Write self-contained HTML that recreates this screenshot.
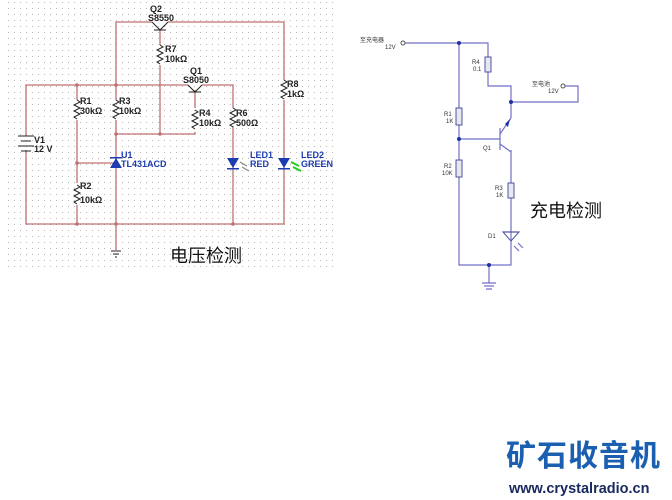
<!DOCTYPE html>
<html><head><meta charset="utf-8"><style>
body{margin:0;width:672px;height:500px;background:#fff;overflow:hidden;position:relative;font-family:"Liberation Sans","Noto Sans CJK SC",sans-serif}
</style></head><body>
<svg width="672" height="500" style="position:absolute;left:0;top:0" font-family="Liberation Sans, Noto Sans CJK SC, sans-serif">
<defs><pattern id="g" width="6" height="6" patternUnits="userSpaceOnUse"><rect x="2" y="2" width="1" height="1" fill="#b8b8b8"/></pattern></defs>
<rect x="8" y="2" width="330" height="266" fill="url(#g)"/>
<g stroke="#c07070" stroke-width="1.3" fill="none">
<path d="M116 85 V22 H152 M168 22 H284 V80 M284 100 V224 H26 V150 M26 136 V85 H188 M202 85 H233 V108 M233 126 V224"/>
<path d="M160 30 V45 M160 65 V134 H116 V120 M116 100 V85 M160 134 H195 V132 M195 108 V90"/>
<path d="M77 85 V100 M77 120 V183 M77 205 V224 M77 163 H116 M116 134 V224 V250"/>
</g>
<g stroke="#222" stroke-width="1" fill="none">
<path d="M152 22 L160 30 L168 22 M154 30 H166"/>
<path d="M188 85 L195 92 L202 85 M189 92 H201"/>
<path d="M77 100 l3 2 l-6 3 l6 3 l-6 3 l6 3 l-6 3 l3 2 M116 100 l3 2 l-6 3 l6 3 l-6 3 l6 3 l-6 3 l3 2 M160 45 l3 2 l-6 3 l6 3 l-6 3 l6 3 l-6 3 l3 2 M195 110 l3 2 l-6 3 l6 3 l-6 3 l6 3 l-6 3 l3 2 M233 108 l3 2 l-6 3 l6 3 l-6 3 l6 3 l-6 3 l3 2 M77 185 l3 2 l-6 3 l6 3 l-6 3 l6 3 l-6 3 l3 2 M284 80 l3 2 l-6 3 l6 3 l-6 3 l6 3 l-6 3 l3 2"/>
<path d="M18 136 H34 M21 141 H31 M18 146 H34 M21 151 H31"/>
<path d="M111 251 H121 M113 254 H119 M115 257 H117"/>
</g>
<g fill="#1c3cb0"><path d="M110 168 L116 158 L122 168Z"/><rect x="110" y="157" width="12" height="1.5"/>
<path d="M227 158 H239 L233 168Z"/><rect x="227" y="168" width="12" height="1.5"/>
<path d="M278 158 H290 L284 168Z"/><rect x="278" y="168" width="12" height="1.5"/></g>
<path d="M240 162 l7 4 M242 167 l7 4" stroke="#888" stroke-width="1.2"/>
<path d="M291 162 l8 4 M293 167 l8 4" stroke="#2c2" stroke-width="2"/>
<g fill="#c07070"><circle cx="116" cy="85" r="1.8"/><circle cx="77" cy="85" r="1.8"/><circle cx="77" cy="163" r="1.8"/><circle cx="116" cy="134" r="1.8"/><circle cx="160" cy="134" r="1.8"/><circle cx="77" cy="224" r="1.8"/><circle cx="116" cy="224" r="1.8"/><circle cx="233" cy="224" r="1.8"/></g>
<g font-size="9" font-weight="bold" fill="#222">
<text x="150" y="12">Q2</text><text x="148" y="21">S8550</text>
<text x="165" y="52">R7</text><text x="165" y="62">10kΩ</text>
<text x="190" y="74">Q1</text><text x="183" y="83">S8050</text>
<text x="80" y="104">R1</text><text x="80" y="114">30kΩ</text>
<text x="119" y="104">R3</text><text x="119" y="114">10kΩ</text>
<text x="199" y="116">R4</text><text x="199" y="126">10kΩ</text>
<text x="236" y="116">R6</text><text x="236" y="126">500Ω</text>
<text x="287" y="87">R8</text><text x="287" y="97">1kΩ</text>
<text x="34" y="143">V1</text><text x="34" y="152">12 V</text>
<text x="80" y="189">R2</text><text x="80" y="203">10kΩ</text>
</g>
<g font-size="9" font-weight="bold" fill="#1c3cb0">
<text x="121" y="158">U1</text><text x="121" y="167">TL431ACD</text>
<text x="250" y="158">LED1</text><text x="250" y="167">RED</text>
<text x="301" y="158">LED2</text><text x="301" y="167">GREEN</text>
</g>
<text x="170" y="262" font-size="18" fill="#111">电压检测</text>

<g stroke="#7070c8" stroke-width="1.2" fill="none">
<path d="M405 43 H488 V57 M488 72 V86 H511 V118 M511 102 H578 V86 H565"/>
<path d="M459 43 V108 M459 125 V160 M459 177 V265 H511 V241 M511 150 V183 M511 198 V232"/>
<path d="M459 139 H500 M500 128 V150 M500 134 L511 118 M500 144 L511 152"/>
<path d="M489 265 V283 M482 283 H496 M484 286 H494 M486 289 H492"/>
<path d="M503 232 H519 M511 241 V232"/>
<path d="M514 246 l5 5 M518 243 l5 5"/>
</g>
<circle cx="403" cy="43" r="2" fill="#fff" stroke="#555"/><circle cx="563" cy="86" r="2" fill="#fff" stroke="#555"/>
<g fill="#e8e8f0" stroke="#5050a0"><rect x="485" y="57" width="6" height="15"/><rect x="456" y="108" width="6" height="17"/><rect x="456" y="160" width="6" height="17"/><rect x="508" y="183" width="6" height="15"/></g>
<path d="M503 232 H519 L511 241Z" fill="none" stroke="#5050a0"/>
<path d="M505 124 L510 119 L508 127Z" fill="#2030a0"/>
<g fill="#2030a0"><circle cx="459" cy="43" r="2"/><circle cx="511" cy="102" r="2"/><circle cx="459" cy="139" r="2"/><circle cx="489" cy="265" r="2"/></g>
<g font-size="6" fill="#333">
<text x="360" y="42">至充电器</text><text x="385" y="49">12V</text>
<text x="472" y="64">R4</text><text x="473" y="71">0.1</text>
<text x="532" y="86">至电池</text><text x="548" y="93">12V</text>
<text x="444" y="116">R1</text><text x="446" y="123">1K</text>
<text x="444" y="168">R2</text><text x="442" y="175">10K</text>
<text x="483" y="150">Q1</text>
<text x="495" y="190">R3</text><text x="496" y="197">1K</text>
<text x="488" y="238">D1</text>
</g>
<text x="530" y="217" font-size="18" fill="#111">充电检测</text>

<text x="506" y="466" font-size="30" font-weight="bold" fill="#1a5fb0" letter-spacing="1">矿石收音机</text>
<text x="509" y="493" font-size="14.5" font-weight="bold" fill="#1a2a60">www.crystalradio.cn</text>
</svg>
</body></html>
